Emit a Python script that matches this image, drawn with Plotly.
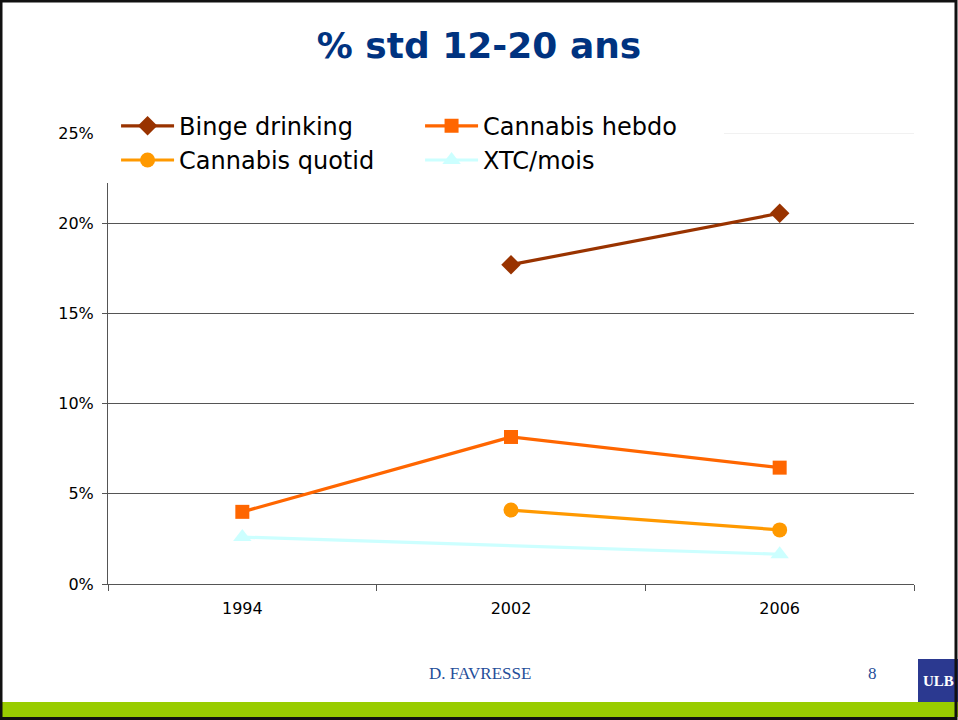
import plotly.graph_objects as go

# Data (percent)
years = ["1994", "2002", "2006"]
binge_drinking = [None, 17.7, 20.55]
cannabis_hebdo = [4.0, 8.15, 6.45]
cannabis_quotid = [None, 4.1, 3.0]
xtc_mois = [2.6, None, 1.65]

y_ticks = [0, 5, 10, 15, 20, 25]
y_tick_labels = ["0%", "5%", "10%", "15%", "20%", "25%"]

series = [
    ("Binge drinking", binge_drinking, "#993300", "diamond", 15),
    ("Cannabis hebdo", cannabis_hebdo, "#FF6600", "square", 14),
    ("Cannabis quotid", cannabis_quotid, "#FF9900", "circle", 15),
    ("XTC/mois", xtc_mois, "#CCFFFF", "triangle-up", 16),
]

fig = go.Figure()
for name, values, color, symbol, size in series:
    fig.add_trace(go.Scatter(
        x=years,
        y=values,
        name=name,
        mode="lines+markers",
        connectgaps=True,
        line=dict(color=color, width=3.2),
        marker=dict(symbol=symbol, size=size, color=color),
    ))

# Slide decoration (pixels converted to paper coords of a 108..914 / 133..584 plot box)
def px(xp):
    return (xp - 108) / 806

def py(yp):
    return (584 - yp) / 451

shapes = [
    # light 25% gridline visible to the right of the legend
    dict(type="line", xref="paper", yref="y", x0=0, x1=1, y0=25, y1=25,
         line=dict(color="#E4E4E4", width=1), layer="above"),
    # white legend area hiding the top of the axis
    dict(type="rect", xref="paper", yref="paper", x0=px(100), x1=px(711), y0=py(183), y1=py(108),
         fillcolor="white", line=dict(width=0), layer="above"),
    # green band at the bottom
    dict(type="rect", xref="paper", yref="paper", x0=px(0), x1=px(958), y0=py(717), y1=py(702),
         fillcolor="#99CC00", line=dict(width=0)),
    # ULB box
    dict(type="rect", xref="paper", yref="paper", x0=px(918), x1=px(958), y0=py(702), y1=py(659),
         fillcolor="#2B3990", line=dict(width=0)),
    # slide frame
    dict(type="rect", xref="paper", yref="paper", x0=px(1), x1=px(956), y0=py(718.5), y1=py(1),
         line=dict(color="#111111", width=3)),
]

footer_font = dict(family="Liberation Serif, Times New Roman, serif", size=17, color="#1F4E9A")

fig.update_layout(
    width=958,
    height=720,
    margin=dict(l=108, r=44, t=133, b=136),
    paper_bgcolor="white",
    plot_bgcolor="white",
    font=dict(family="DejaVu Sans, Verdana, sans-serif", color="black"),
    title=dict(
        text="<b>% std 12-20 ans</b>",
        x=0.5, xref="container", xanchor="center",
        y=1 - 45 / 720, yanchor="middle",
        font=dict(family="DejaVu Sans, Verdana, sans-serif", size=36, color="#003380"),
    ),
    xaxis=dict(
        type="category",
        range=[-0.5, 2.5],
        tickson="boundaries",
        ticks="outside",
        ticklen=6,
        tickcolor="#555555",
        showline=True,
        linecolor="#555555",
        showgrid=False,
        ticklabelstandoff=10,
        tickfont=dict(size=16),
    ),
    yaxis=dict(
        range=[0, 25],
        tickvals=y_ticks,
        ticktext=y_tick_labels,
        ticks="outside",
        ticklen=5,
        tickcolor="#555555",
        showline=True,
        linecolor="#555555",
        gridcolor="#555555",
        zeroline=False,
        ticklabelstandoff=5,
        tickfont=dict(size=16),
    ),
    legend=dict(
        orientation="h",
        x=0.01, xanchor="left",
        y=1.065, yanchor="top",
        bgcolor="white",
        entrywidth=236,
        itemwidth=53,
        font=dict(size=24),
    ),
    shapes=shapes,
    annotations=[
        dict(text="D. FAVRESSE", xref="paper", yref="paper", x=px(480), y=py(673),
             xanchor="center", yanchor="middle", showarrow=False, font=footer_font),
        dict(text="8", xref="paper", yref="paper", x=px(872), y=py(673),
             xanchor="center", yanchor="middle", showarrow=False, font=footer_font),
        dict(text="<b>ULB</b>", xref="paper", yref="paper", x=px(938), y=py(681),
             xanchor="center", yanchor="middle", showarrow=False,
             font=dict(family="Liberation Serif, Times New Roman, serif", size=15, color="white")),
    ],
)

fig.write_html("out.html", config={"displayModeBar": False},
               post_script="document.body.style.margin = '0';")
